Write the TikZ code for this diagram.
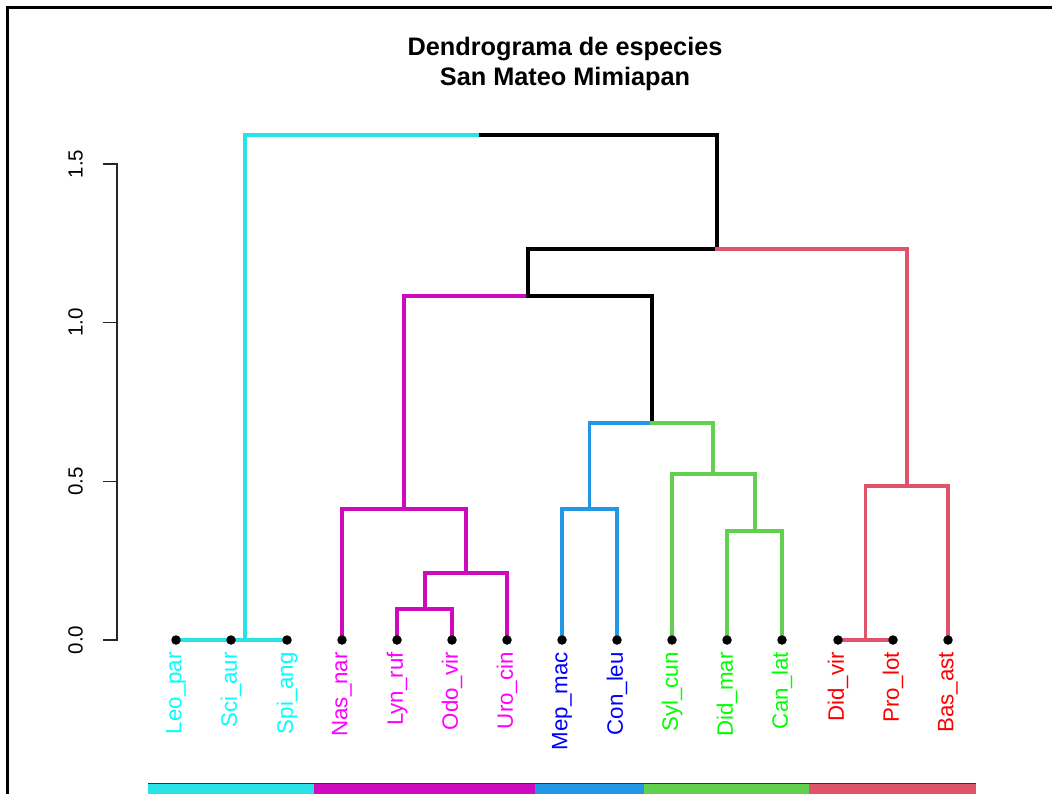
\documentclass[tikz,border=0pt]{standalone}
\usepackage{fontspec}
\setmainfont{Liberation Sans}
\definecolor{rcyan}{HTML}{28E2E5}
\definecolor{rmag}{HTML}{CD0BBC}
\definecolor{rblue}{HTML}{2297E6}
\definecolor{rgreen}{HTML}{61D04F}
\definecolor{rred}{HTML}{DF536B}
\definecolor{lcyan}{HTML}{00FFFF}
\definecolor{lmag}{HTML}{FF00FF}
\definecolor{lblue}{HTML}{0000FF}
\definecolor{lgreen}{HTML}{00FF00}
\definecolor{lred}{HTML}{FF0000}
\tikzset{
  br/.style={line width=3.3pt, line cap=rect, line join=miter},
  leafdot/.style={circle, fill=black, inner sep=0pt, minimum size=9.5pt},
  leaflab/.style={rotate=90, anchor=east, inner sep=0pt, font=\fontsize{22.3}{25}\selectfont},
  axlab/.style={rotate=90, anchor=south, inner sep=0pt, font=\fontsize{20.5}{23}\selectfont},
}
\begin{document}
\begin{tikzpicture}[x=1pt,y=-1pt]
\useasboundingbox (0,0) rectangle (1052,793);
\fill[white] (0,0) rectangle (1052,793);
% frame
\draw[line width=3pt] (7,796) -- (7,7) -- (1056,7);
% title
\node[font=\bfseries\fontsize{25.3}{30}\selectfont, align=center, inner sep=0pt] (title) at (565,63.5) {Dendrograma de especies\\San Mateo Mimiapan};
% axis
\coordinate (ax0) at (117,640);
\coordinate (ax15) at (117,164);
\draw[line width=1.3pt, gray!30!black] (103,164) -- (ax15) -- (ax0) -- (103,640);
\draw[line width=1.3pt, gray!30!black] (103,322.7) -- (117,322.7) (103,481.3) -- (117,481.3);
\node[axlab] (t0) at (83,640) {0.0};
\node[axlab] (t05) at (83,481.3) {0.5};
\node[axlab] (t10) at (83,322.7) {1.0};
\node[axlab] (t15) at (83,164) {1.5};
% leaves
\foreach \n/\x in {1/176,2/231,3/287,4/342,5/397,6/452,7/507,8/562,9/617,10/672,11/727,12/782,13/838,14/893,15/948}
  \coordinate (l\n) at (\x,640);
% internal nodes
\coordinate (a) at (203.5,640);
\coordinate (b) at (245,640);
\coordinate (root) at (480.5,135);
\coordinate (c) at (717,249);
\coordinate (d) at (528,296);
\coordinate (e) at (404,509);
\coordinate (f) at (466,573);
\coordinate (g) at (425,609);
\coordinate (h) at (652,423);
\coordinate (i) at (589.5,509);
\coordinate (j) at (713,474);
\coordinate (k) at (755,531);
\coordinate (m) at (907,486);
\coordinate (n) at (865.5,640);
% cyan cluster
\draw[br, rcyan] (l1) -- (l3);
\draw[br, rcyan] (b) |- (root);
% root right half
\draw[br, black] (root) -| (c);
% c
\draw[br, black] (c) -| (d);
\draw[br, rred] (c) -| (m);
% d
\draw[br, rmag] (d) -| (e);
\draw[br, black] (d) -| (h);
% magenta
\draw[br, rmag] (e) -| (l4);
\draw[br, rmag] (e) -| (f);
\draw[br, rmag] (f) -| (g);
\draw[br, rmag] (f) -| (l7);
\draw[br, rmag] (g) -| (l5);
\draw[br, rmag] (g) -| (l6);
% h
\draw[br, rblue] (h) -| (i);
\draw[br, rgreen] (h) -| (j);
\draw[br, rblue] (i) -| (l8);
\draw[br, rblue] (i) -| (l9);
\draw[br, rgreen] (j) -| (l10);
\draw[br, rgreen] (j) -| (k);
\draw[br, rgreen] (k) -| (l11);
\draw[br, rgreen] (k) -| (l12);
% red
\draw[br, rred] (m) -| (n);
\draw[br, rred] (m) -| (l15);
\draw[br, rred] (l13) -- (l14);
% dots
\foreach \n in {1,...,15} \node[leafdot] (d\n) at (l\n) {};
% labels
\foreach \n/\t/\c in {1/Leo\_par/lcyan,2/Sci\_aur/lcyan,3/Spi\_ang/lcyan,4/Nas\_nar/lmag,5/Lyn\_ruf/lmag,6/Odo\_vir/lmag,7/Uro\_cin/lmag,8/Mep\_mac/lblue,9/Con\_leu/lblue,10/Syl\_cun/lgreen,11/Did\_mar/lgreen,12/Can\_lat/lgreen,13/Did\_vir/lred,14/Pro\_lot/lred,15/Bas\_ast/lred}
  \node[leaflab, text=\c] (lab\n) at ([yshift=-12pt]l\n) {\t};
% colour bar
\fill[rcyan] (148,784) rectangle (313.5,796);
\fill[rmag] (313.5,784) rectangle (534.5,796);
\fill[rblue] (534.5,784) rectangle (644,796);
\fill[rgreen] (644,784) rectangle (809,796);
\fill[rred] (809,784) rectangle (975.5,796);
\draw[line width=1.2pt, gray!40!black] (148,783.5) -- (975.5,783.5);
\end{tikzpicture}
\end{document}
